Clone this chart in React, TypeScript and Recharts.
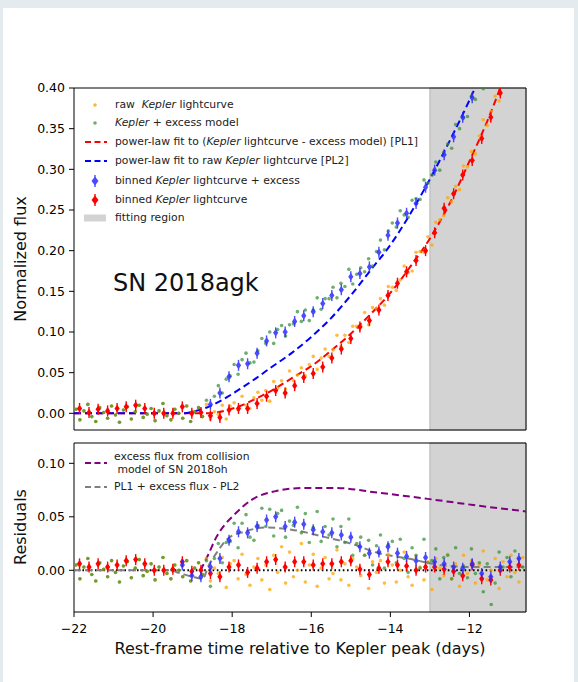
import React from 'react';
import { ComposedChart, Scatter, Line, XAxis, YAxis, ReferenceArea, ReferenceLine } from 'recharts';

const FONT = '"DejaVu Sans", sans-serif';

// Kepler samples, days relative to peak
const rawTimes = [
  -21.95, -21.85, -21.75, -21.65, -21.55, -21.45, -21.35, -21.25, -21.15, -21.05,
  -20.95, -20.85, -20.75, -20.65, -20.55, -20.45, -20.35, -20.25, -20.15, -20.05,
  -19.95, -19.85, -19.75, -19.65, -19.55, -19.45, -19.35, -19.25, -19.15, -19.05,
  -18.95, -18.85, -18.75, -18.65, -18.55, -18.45, -18.35, -18.25, -18.15, -18.05,
  -17.95, -17.85, -17.75, -17.65, -17.55, -17.45, -17.35, -17.25, -17.15, -17.05,
  -16.95, -16.85, -16.75, -16.65, -16.55, -16.45, -16.35, -16.25, -16.15, -16.05,
  -15.95, -15.85, -15.75, -15.65, -15.55, -15.45, -15.35, -15.25, -15.15, -15.05,
  -14.95, -14.85, -14.75, -14.65, -14.55, -14.45, -14.35, -14.25, -14.15, -14.05,
  -13.95, -13.85, -13.75, -13.65, -13.55, -13.45, -13.35, -13.25, -13.15, -13.05,
  -12.95, -12.85, -12.75, -12.65, -12.55, -12.45, -12.35, -12.25, -12.15, -12.05,
  -11.95, -11.85, -11.75, -11.65, -11.55, -11.45, -11.35, -11.25, -11.15, -11.05,
  -10.95, -10.85, -10.75, -10.65,
];

const rawFlux = [
  0.005, -0.008, 0.003, 0.011, -0.004, -0.010, 0.007, 0.001, -0.006, 0.009,
  -0.002, -0.011, 0.004, 0.008, -0.007, 0.002, 0.010, -0.005, -0.001, 0.006,
  -0.009, 0.003, 0.012, -0.003, -0.008, 0.005, 0.000, -0.006, 0.009, -0.010,
  0.002, 0.007, -0.004, 0.011, -0.007, 0.002, -0.001, 0.010, -0.007, 0.009,
  0.013, 0.004, 0.021, 0.010, 0.006, 0.019, 0.026, 0.016, 0.028, 0.015,
  0.039, 0.031, 0.040, 0.030, 0.052, 0.040, 0.047, 0.056, 0.046, 0.060,
  0.070, 0.054, 0.068, 0.079, 0.070, 0.078, 0.096, 0.082, 0.096, 0.087,
  0.107, 0.107, 0.107, 0.124, 0.109, 0.130, 0.129, 0.141, 0.133, 0.156,
  0.155, 0.151, 0.164, 0.181, 0.173, 0.175, 0.198, 0.199, 0.198, 0.217,
  0.207, 0.235, 0.238, 0.243, 0.265, 0.260, 0.279, 0.275, 0.304, 0.303,
  0.322, 0.319, 0.341, 0.361, 0.354, 0.371, 0.390, 0.384, 0.412, 0.415,
  0.440, 0.442, 0.448, 0.475,
];

const excessFlux = [
  0.005, -0.008, 0.003, 0.011, -0.004, -0.010, 0.007, 0.001, -0.006, 0.009,
  -0.002, -0.011, 0.004, 0.008, -0.007, 0.002, 0.010, -0.005, -0.001, 0.006,
  -0.009, 0.003, 0.012, -0.003, -0.008, 0.005, 0.000, -0.006, 0.009, -0.010,
  0.002, 0.007, -0.004, 0.016, 0.000, 0.021, 0.034, 0.025, 0.042, 0.046,
  0.060, 0.048, 0.066, 0.074, 0.062, 0.063, 0.077, 0.092, 0.086, 0.100,
  0.086, 0.103, 0.108, 0.095, 0.109, 0.110, 0.125, 0.113, 0.127, 0.114,
  0.127, 0.142, 0.128, 0.141, 0.141, 0.155, 0.142, 0.160, 0.156, 0.177,
  0.159, 0.171, 0.179, 0.174, 0.190, 0.181, 0.199, 0.213, 0.201, 0.224,
  0.234, 0.229, 0.249, 0.244, 0.241, 0.262, 0.264, 0.263, 0.287, 0.283,
  0.293, 0.309, 0.299, 0.321, 0.331, 0.326, 0.355, 0.350, 0.363, 0.365,
  0.390, 0.386, 0.405, 0.399, 0.427, 0.432, 0.434, 0.460, 0.470, 0.480,
  0.490, 0.500, 0.510, 0.520,
];

const rawResid = [
  0.005, -0.008, 0.003, 0.011, -0.004, -0.010, 0.007, 0.001, -0.006, 0.009,
  -0.002, -0.011, 0.004, 0.008, -0.007, 0.002, 0.010, -0.005, -0.001, 0.006,
  -0.009, 0.003, 0.012, -0.003, -0.008, 0.005, 0.000, -0.006, 0.009, -0.010,
  0.002, 0.007, -0.004, 0.011, -0.010, 0.002, -0.003, 0.012, -0.016, 0.006,
  0.009, -0.008, 0.015, -0.004, -0.014, 0.003, 0.011, -0.009, 0.005, -0.018,
  0.014, -0.002, 0.022, -0.012, 0.017, -0.006, 0.000, 0.025, -0.011, 0.005,
  0.015, -0.015, 0.002, 0.012, -0.008, -0.003, 0.019, -0.009, 0.006, -0.014,
  0.011, 0.003, -0.005, 0.014, -0.017, 0.008, -0.002, 0.009, -0.012, 0.015,
  0.005, -0.011, 0.000, 0.017, -0.006, -0.014, 0.012, 0.003, -0.009, 0.008,
  -0.018, 0.011, 0.002, -0.005, 0.015, -0.008, 0.006, -0.015, 0.014, -0.003,
  0.009, -0.012, 0.005, 0.018, -0.009, 0.000, 0.011, -0.017, 0.008, -0.006,
  0.014, -0.002, -0.011, 0.012,
];

const excessResid = [
  0.005, -0.008, 0.003, 0.011, -0.004, -0.010, 0.007, 0.001, -0.006, 0.009,
  -0.002, -0.011, 0.004, 0.008, -0.007, 0.002, 0.010, -0.005, -0.001, 0.006,
  -0.009, 0.003, 0.012, -0.003, -0.008, 0.005, 0.000, -0.006, 0.009, -0.010,
  0.002, 0.007, -0.004, 0.009, -0.015, 0.011, 0.025, 0.007, 0.026, 0.027,
  0.044, 0.021, 0.044, 0.052, 0.031, 0.028, 0.042, 0.058, 0.041, 0.057,
  0.032, 0.053, 0.056, 0.031, 0.046, 0.042, 0.059, 0.035, 0.053, 0.026,
  0.040, 0.055, 0.027, 0.041, 0.033, 0.048, 0.022, 0.041, 0.026, 0.048,
  0.014, 0.025, 0.031, 0.014, 0.028, 0.005, 0.023, 0.033, 0.002, 0.024,
  0.027, 0.007, 0.029, 0.011, -0.002, 0.021, 0.014, 0.002, 0.029, 0.007,
  0.009, 0.020, -0.008, 0.012, 0.014, -0.008, 0.021, -0.003, 0.004, -0.007,
  0.020, -0.003, 0.007, -0.020, 0.006, -0.032, -0.012, 0.017, 0.003, 0.012,
  -0.006, 0.018, 0.011, 0.003,
];

// binned light curve
const binTimes = [
  -21.86, -21.62, -21.39, -21.15, -20.91, -20.68, -20.44, -20.21, -19.97, -19.73,
  -19.50, -19.26, -19.02, -18.79, -18.55, -18.31, -18.08, -17.84, -17.61, -17.37,
  -17.13, -16.90, -16.66, -16.42, -16.19, -15.95, -15.71, -15.48, -15.24, -15.00,
  -14.77, -14.53, -14.29, -14.06, -13.82, -13.59, -13.35, -13.11, -12.88, -12.64,
  -12.40, -12.17, -11.93, -11.69, -11.46, -11.22, -10.98, -10.75,
];

const binRawFlux = [
  0.006, 0.001, 0.005, 0.003, 0.006, 0.008, 0.010, 0.006, 0.000, 0.000,
  0.000, 0.008, 0.000, 0.001, -0.003, -0.005, 0.004, 0.006, 0.006, 0.012,
  0.021, 0.028, 0.025, 0.034, 0.044, 0.049, 0.057, 0.068, 0.079, 0.092,
  0.106, 0.114, 0.127, 0.145, 0.160, 0.174, 0.188, 0.200, 0.222, 0.252,
  0.270, 0.293, 0.311, 0.338, 0.364, 0.394, 0.420, 0.450,
];

const binExcessFlux = [
  null, null, null, null, null, null, null, null, null, null,
  null, null, null, null, 0.011, 0.025, 0.045, 0.059, 0.061, 0.074,
  0.089, 0.099, 0.100, 0.113, 0.120, 0.125, 0.135, 0.145, 0.152, 0.168,
  0.172, 0.180, 0.198, 0.219, 0.234, 0.246, 0.258, 0.278, 0.299, 0.318,
  0.340, 0.364, 0.388, 0.412, 0.440, 0.470, 0.500, 0.530,
];

const binRawResid = [
  0.006, 0.003, 0.006, 0.003, 0.005, 0.009, 0.010, 0.006, 0.000, 0.000,
  0.001, 0.008, -0.001, 0.000, -0.003, -0.006, 0.003, 0.005, -0.002, 0.002,
  0.008, 0.010, 0.003, 0.008, 0.008, 0.005, 0.006, 0.006, 0.008, 0.009,
  0.001, -0.004, 0.002, 0.008, 0.005, 0.004, 0.000, 0.003, 0.003, 0.001,
  -0.001, -0.005, 0.005, -0.008, -0.009, 0.000, 0.003, 0.005,
];

const binExcessResid = [
  null, null, null, null, null, null, null, null, null, null,
  null, 0.005, -0.005, -0.006, 0.003, 0.011, 0.028, 0.036, 0.035, 0.041,
  0.047, 0.050, 0.041, 0.045, 0.043, 0.038, 0.036, 0.035, 0.033, 0.031,
  0.022, 0.016, 0.017, 0.022, 0.016, 0.013, 0.009, 0.012, 0.008, 0.006,
  0.003, 0.002, 0.006, -0.003, -0.006, 0.003, 0.008, 0.011,
];

// fitted curves
const pl1Times = [-22, -18.6, -18.2, -17.8, -17.4, -17.0, -16.5, -16.0, -15.5, -15.0, -14.5, -14.0, -13.5, -13.0, -12.5, -12.0, -11.5, -11.0];
const pl1Flux = [0, 0, 0.003, 0.009, 0.018, 0.028, 0.043, 0.058, 0.077, 0.098, 0.122, 0.148, 0.18, 0.215, 0.258, 0.31, 0.365, 0.43];

const pl2Times = [-22, -19.2, -19.0, -18.6, -18.2, -17.8, -17.4, -17.0, -16.5, -16.0, -15.5, -15.0, -14.5, -14.0, -13.5, -13.0, -12.5, -12.0, -11.5];
const pl2Flux = [0, 0, 0.002, 0.008, 0.018, 0.03, 0.043, 0.057, 0.074, 0.094, 0.117, 0.145, 0.176, 0.207, 0.245, 0.288, 0.335, 0.385, 0.44];

const collisionTimes = [-18.8, -18.6, -18.4, -18.2, -18.0, -17.5, -16.9, -16.15, -15.4, -14.4, -13.1, -11.9, -10.57];
const collisionResid = [0, 0.015, 0.031, 0.042, 0.05, 0.066, 0.074, 0.077, 0.077, 0.073, 0.067, 0.061, 0.055];

const comboTimes = [-22, -19.6, -19.3, -19.0, -18.75, -18.6, -18.4, -18.1, -17.7, -17.15, -16.5, -15.65, -15.0, -14.3, -13.55, -12.75, -11.9, -10.57];
const comboResid = [0, 0, -0.003, -0.006, -0.008, 0.004, 0.016, 0.03, 0.036, 0.04, 0.038, 0.031, 0.025, 0.016, 0.011, 0.005, 0.003, 0.003];

const xTicks = [-22, -20, -18, -16, -14, -12];
const fluxTicks = [0, 0.05, 0.1, 0.15, 0.2, 0.25, 0.3, 0.35, 0.4];
const residTicks = [0, 0.05, 0.1];

const X_DOMAIN: [number, number] = [-22, -10.57];
const FLUX_DOMAIN: [number, number] = [-0.0205, 0.4];
const RESID_DOMAIN: [number, number] = [-0.039, 0.119];

const pts = (xs: number[], ys: (number | null)[]) =>
  xs.map((x, i) => ({ x, y: ys[i] })).filter((p) => p.y !== null && p.y !== undefined);

const rawPts = pts(rawTimes, rawFlux);
const excessPts = pts(rawTimes, excessFlux);
const rawResPts = pts(rawTimes, rawResid);
const excessResPts = pts(rawTimes, excessResid);
const binRawPts = pts(binTimes, binRawFlux);
const binExcessPts = pts(binTimes, binExcessFlux);
const binRawResPts = pts(binTimes, binRawResid);
const binExcessResPts = pts(binTimes, binExcessResid);
const pl1Pts = pts(pl1Times, pl1Flux);
const pl2Pts = pts(pl2Times, pl2Flux);
const collisionPts = pts(collisionTimes, collisionResid);
const comboPts = pts(comboTimes, comboResid);

const ORANGE = '#ffa500';
const GREEN = '#2f8f2f';
const RED = '#ff0000';
const BLUE = '#2b2bff';

const dot = (color: string, opacity: number) => (p: any) =>
  <circle cx={p.cx} cy={p.cy} r={1.8} fill={color} fillOpacity={opacity} />;

const diamond = (color: string, opacity = 1) => (p: any) => (
  <g opacity={opacity}>
    <line x1={p.cx} x2={p.cx} y1={p.cy - 5.5} y2={p.cy + 5.5} stroke={color} strokeWidth={1.4} />
    <polygon
      points={`${p.cx},${p.cy - 3.8} ${p.cx + 2.6},${p.cy} ${p.cx},${p.cy + 3.8} ${p.cx - 2.6},${p.cy}`}
      fill={color}
    />
  </g>
);

const minus = (v: number) => (v < 0 ? `\u2212${Math.abs(v)}` : `${v}`);
const tickStyle = { fill: '#000', fontSize: 12.5, fontFamily: FONT };

const LegendRow = ({ y, icon, children }: { y: number; icon: React.ReactNode; children: React.ReactNode }) => (
  <>
    <svg style={{ position: 'absolute', left: 82, top: y - 8 }} width={28} height={16}>
      {icon}
    </svg>
    <div style={{ position: 'absolute', left: 115, top: y - 7, fontSize: 10.8, lineHeight: '14px', whiteSpace: 'pre', color: '#222' }}>
      {children}
    </div>
  </>
);

const dashIcon = (color: string) => (
  <line x1={3} x2={25} y1={8} y2={8} stroke={color} strokeWidth={2} strokeDasharray="6 3.5" />
);
const markerIcon = (color: string, opacity = 1) => (
  <g opacity={opacity}>
    <line x1={13} x2={13} y1={2} y2={14} stroke={color} strokeWidth={1.4} />
    <polygon points="13,3.5 16.5,8 13,12.5 9.5,8" fill={color} />
  </g>
);

export default function App() {
  return (
    <div style={{ position: 'fixed', left: 0, top: 0, width: 578, height: 682, background: '#e3ebef', fontFamily: FONT, overflow: 'hidden' }}>
      <div style={{ position: 'absolute', left: 3, top: 8, width: 571, height: 674, background: '#fff' }} />

      <div style={{ position: 'absolute', left: 0, top: 0 }}>
        <ComposedChart width={578} height={438} margin={{ top: 88, right: 52, bottom: 0, left: 24 }}>
          <XAxis type="number" dataKey="x" domain={X_DOMAIN} ticks={xTicks} allowDataOverflow tick={false}
            tickSize={5} height={8} axisLine={false} tickLine={{ stroke: '#000' }} />
          <YAxis type="number" dataKey="y" domain={FLUX_DOMAIN} ticks={fluxTicks} allowDataOverflow width={50}
            tickSize={5} tickMargin={4} axisLine={false} tickLine={{ stroke: '#000' }} tick={tickStyle}
            tickFormatter={(v: number) => v.toFixed(2)} />
          <ReferenceArea x1={-13} x2={-10.57} fill="#d3d3d3" fillOpacity={1} stroke="#b5b5b5" strokeWidth={1} />
          <Scatter data={rawPts} shape={dot(ORANGE, 0.75)} isAnimationActive={false} />
          <Scatter data={excessPts} shape={dot(GREEN, 0.7)} isAnimationActive={false} />
          <Line data={pl1Pts} dataKey="y" type="monotone" stroke={RED} strokeWidth={2} strokeDasharray="7 4" dot={false} isAnimationActive={false} />
          <Line data={pl2Pts} dataKey="y" type="monotone" stroke="#0000ff" strokeWidth={2} strokeDasharray="7 4" dot={false} isAnimationActive={false} />
          <Scatter data={binExcessPts} shape={diamond(BLUE, 0.85)} isAnimationActive={false} />
          <Scatter data={binRawPts} shape={diamond(RED)} isAnimationActive={false} />
          <ReferenceArea x1={-22} x2={-10.57} y1={-0.0205} y2={0.4} fill="none" stroke="#000" strokeWidth={1} />
        </ComposedChart>
      </div>

      <div style={{ position: 'absolute', left: 0, top: 435 }}>
        <ComposedChart width={578} height={247} margin={{ top: 8, right: 52, bottom: 0, left: 24 }}>
          <XAxis type="number" dataKey="x" domain={X_DOMAIN} ticks={xTicks} allowDataOverflow
            tickSize={5} tickMargin={7} height={70} axisLine={false} tickLine={{ stroke: '#000' }} tick={tickStyle}
            tickFormatter={minus} />
          <YAxis type="number" dataKey="y" domain={RESID_DOMAIN} ticks={residTicks} allowDataOverflow width={50}
            tickSize={5} tickMargin={4} axisLine={false} tickLine={{ stroke: '#000' }} tick={tickStyle}
            tickFormatter={(v: number) => v.toFixed(2)} />
          <ReferenceArea x1={-13} x2={-10.57} fill="#d3d3d3" fillOpacity={1} stroke="#b5b5b5" strokeWidth={1} />
          <Scatter data={rawResPts} shape={dot(ORANGE, 0.75)} isAnimationActive={false} />
          <Scatter data={excessResPts} shape={dot(GREEN, 0.7)} isAnimationActive={false} />
          <ReferenceLine y={0} stroke="#000" strokeWidth={2} strokeDasharray="1.6 2.6" />
          <Line data={comboPts} dataKey="y" type="monotone" stroke="#808080" strokeWidth={2} strokeDasharray="7 4" dot={false} isAnimationActive={false} />
          <Line data={collisionPts} dataKey="y" type="monotone" stroke="#800080" strokeWidth={2} strokeDasharray="7 4" dot={false} isAnimationActive={false} />
          <Scatter data={binRawResPts} shape={diamond(RED)} isAnimationActive={false} />
          <Scatter data={binExcessResPts} shape={diamond(BLUE, 0.85)} isAnimationActive={false} />
          <ReferenceArea x1={-22} x2={-10.57} y1={-0.039} y2={0.119} fill="none" stroke="#000" strokeWidth={1} />
        </ComposedChart>
      </div>

      {/* top legend */}
      <LegendRow y={105} icon={<circle cx={13} cy={8} r={1.8} fill={ORANGE} fillOpacity={0.8} />}>
        raw  <i>Kepler</i> lightcurve
      </LegendRow>
      <LegendRow y={123} icon={<circle cx={13} cy={8} r={1.8} fill={GREEN} fillOpacity={0.7} />}>
        <i>Kepler</i> + excess model
      </LegendRow>
      <LegendRow y={142} icon={dashIcon(RED)}>
        power-law fit to (<i>Kepler</i> lightcurve - excess model) [PL1]
      </LegendRow>
      <LegendRow y={161} icon={dashIcon('#0000ff')}>
        power-law fit to raw <i>Kepler</i> lightcurve [PL2]
      </LegendRow>
      <LegendRow y={180.5} icon={markerIcon(BLUE, 0.85)}>
        binned <i>Kepler</i> lightcurve + excess
      </LegendRow>
      <LegendRow y={199.5} icon={markerIcon(RED)}>
        binned <i>Kepler</i> lightcurve
      </LegendRow>
      <LegendRow y={218} icon={<rect x={2} y={4.5} width={22} height={7} fill="#d3d3d3" />}>
        fitting region
      </LegendRow>

      <div style={{ position: 'absolute', left: 113, top: 268, fontSize: 24, lineHeight: '30px', color: '#111' }}>SN 2018agk</div>

      {/* bottom legend */}
      <svg style={{ position: 'absolute', left: 82, top: 455 }} width={28} height={40}>
        <line x1={3} x2={25} y1={8} y2={8} stroke="#800080" strokeWidth={2} strokeDasharray="6 3.5" />
        <line x1={3} x2={25} y1={32} y2={32} stroke="#808080" strokeWidth={2} strokeDasharray="6 3.5" />
      </svg>
      <div style={{ position: 'absolute', left: 114, top: 450, fontSize: 10.8, lineHeight: '13.4px', whiteSpace: 'pre', color: '#222' }}>
        {'excess flux from collision\n model of SN 2018oh'}
      </div>
      <div style={{ position: 'absolute', left: 114, top: 480, fontSize: 10.8, lineHeight: '14px', whiteSpace: 'pre', color: '#222' }}>
        PL1 + excess flux - PL2
      </div>

      {/* axis titles */}
      <div style={{ position: 'absolute', left: 21 - 100, top: 259 - 10, width: 200, height: 20, lineHeight: '20px', textAlign: 'center', fontSize: 16, color: '#111', transform: 'rotate(-90deg)' }}>
        Normalized flux
      </div>
      <div style={{ position: 'absolute', left: 21 - 100, top: 527 - 10, width: 200, height: 20, lineHeight: '20px', textAlign: 'center', fontSize: 16, color: '#111', transform: 'rotate(-90deg)' }}>
        Residuals
      </div>
      <div style={{ position: 'absolute', left: 0, top: 639, width: 600, textAlign: 'center', fontSize: 16, lineHeight: '20px', color: '#111' }}>
        Rest-frame time relative to Kepler peak (days)
      </div>
    </div>
  );
}
